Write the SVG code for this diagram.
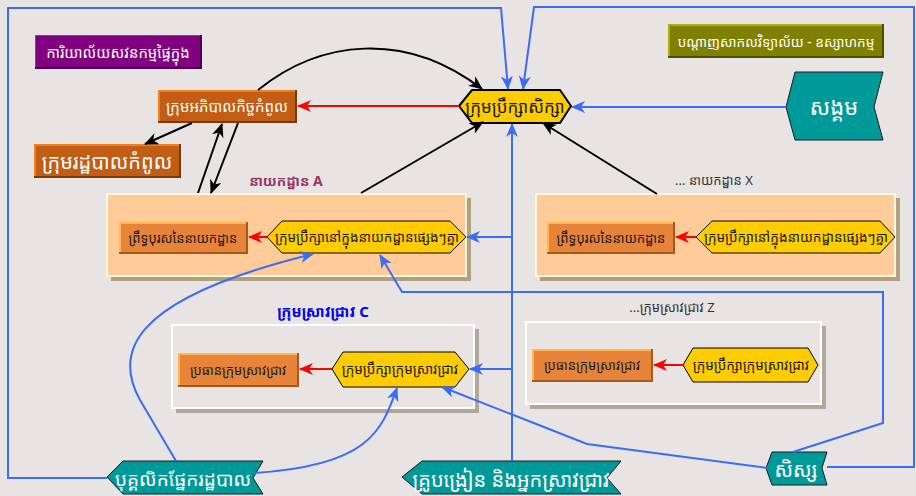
<svg xmlns="http://www.w3.org/2000/svg" width="916" height="496" viewBox="0 0 916 496">
<defs>
<style>
text{font-family:"Noto Sans Khmer","Khmer OS","Khmer OS System","Noto Sans","DejaVu Sans",sans-serif;text-anchor:middle;dominant-baseline:central}
.wt{fill:#fff}
.bk{fill:#1a1a1a}
.gr{fill:#333}
.cb{fill:none;stroke:#3a6cf4;stroke-width:2}
.ck{fill:none;stroke:#000;stroke-width:2}
.cr{fill:none;stroke:#f00;stroke-width:2}
.hex{fill:#ffcc00;stroke:#000;stroke-width:1}
.tag{fill:#009999;stroke:#1a1a1a;stroke-width:1}
.dept{fill:#ffcc99;stroke:#fff8dc;stroke-width:2}
.dsh{fill:#b0a080}
.grp{fill:#e8e4e3;stroke:#fff;stroke-width:2}
.gsh{fill:#b0a898}
</style>
<marker id="ab" viewBox="0 0 14 12" refX="13" refY="6" markerWidth="14" markerHeight="12" markerUnits="userSpaceOnUse" orient="auto"><path d="M0,0 L14,6 L0,12 L4,6 z" fill="#3a6cf4"/></marker>
<marker id="ak" viewBox="0 0 14 12" refX="13" refY="6" markerWidth="14" markerHeight="12" markerUnits="userSpaceOnUse" orient="auto"><path d="M0,0 L14,6 L0,12 L4,6 z" fill="#000"/></marker>
<marker id="ar" viewBox="0 0 14 12" refX="13" refY="6" markerWidth="14" markerHeight="12" markerUnits="userSpaceOnUse" orient="auto"><path d="M0,0 L14,6 L0,12 L4,6 z" fill="#f00"/></marker>
</defs>

<rect width="916" height="496" fill="#e8e4e3"/>

<!-- department and research group frames -->
<g id="deptA">
<rect class="dsh" x="111" y="198" width="360" height="83"/>
<rect class="dept" x="107" y="194" width="359" height="82"/>
<text x="286" y="180" style="font-weight:bold;font-size:14px;fill:#993366">នាយកដ្ឋាន A</text>
</g>
<g id="deptX">
<rect class="dsh" x="540" y="198" width="360" height="83"/>
<rect class="dept" x="536" y="194" width="359" height="82"/>
<text x="714" y="180" class="gr" style="font-size:13px">... នាយកដ្ឋាន X</text>
</g>
<g id="groupC">
<rect class="gsh" x="176" y="329" width="303" height="84"/>
<rect class="grp" x="172" y="325" width="302" height="83"/>
<text x="323" y="311" style="font-weight:bold;font-size:15px;fill:#0000ee">ក្រុមស្រាវជ្រាវ C</text>
</g>
<g id="groupZ">
<rect class="gsh" x="530" y="326" width="296" height="83"/>
<rect class="grp" x="526" y="322" width="295" height="82"/>
<text x="672" y="307" class="gr" style="font-size:13px">...ក្រុមស្រាវជ្រាវ Z</text>
</g>

<!-- header boxes -->
<g id="audit">
<rect x="35" y="35" width="167" height="34" fill="#4d004d"/>
<rect x="35" y="35" width="165" height="32" fill="#a030a0"/>
<rect x="36" y="36" width="164" height="31" fill="#800080"/>
<text x="118" y="52" class="wt" style="font-size:14.8px">ការិយាល័យសវនកម្មផ្ទៃក្នុង</text>
</g>
<g id="network">
<rect x="668" y="24" width="216" height="34" fill="#4d4d00"/>
<rect x="668" y="24" width="214" height="32" fill="#b0b000"/>
<rect x="670" y="26" width="212" height="30" fill="#808000"/>
<text x="776" y="41" class="wt" style="font-size:13.6px">បណ្ដាញសាកលវិទ្យាល័យ - ឧស្សាហកម្ម</text>
</g>

<g id="governance">
<rect x="158" y="90" width="139" height="33" fill="#7a3a0a"/>
<rect x="158" y="90" width="137" height="31" fill="#f07f1e"/>
<rect x="160" y="92" width="135" height="29" fill="#c15d14"/>
<text x="227" y="106" class="wt" style="font-size:15px">ក្រុមអភិបាលកិច្ចកំពូល</text>
</g>
<g id="admin">
<rect x="34" y="144" width="147" height="34" fill="#7a3a0a"/>
<rect x="34" y="144" width="145" height="32" fill="#f07f1e"/>
<rect x="36" y="146" width="143" height="30" fill="#c15d14"/>
<text x="107" y="161" class="wt" style="font-size:20px">ក្រុមរដ្ឋបាលកំពូល</text>
</g>

<g id="council">
<polygon class="hex" style="stroke-width:2" points="459,106 472,90 560,90 571,106 560,123 472,123"/>
<text x="515" y="106" class="bk" style="font-size:17px">ក្រុមប្រឹក្សាសិក្សា</text>
</g>

<g id="society">
<polygon class="tag" points="786,107 795,72 883,72 874,107 883,140 795,140"/>
<text x="834" y="106" class="wt" style="font-size:22px">សង្គម</text>
</g>

<!-- inner nodes -->
<g id="deanA">
<rect x="119" y="222" width="129" height="32" fill="#a35a20"/>
<rect x="119" y="222" width="127" height="30" fill="#ffb84d"/>
<rect x="121" y="224" width="125" height="28" fill="#e8843a"/>
<text x="183" y="238" class="bk" style="font-size:13px">ព្រឹទ្ធបុរសនៃនាយកដ្ឋាន</text>
</g>
<g id="councilA">
<polygon class="hex" points="267,237 282,221 450,221 466,237 450,253 282,253"/>
<text x="367" y="237" class="bk" style="font-size:13.5px">ក្រុមប្រឹក្សានៅក្នុងនាយកដ្ឋានផ្សេងៗគ្នា</text>
</g>
<g id="deanX">
<rect x="547" y="222" width="128" height="32" fill="#a35a20"/>
<rect x="547" y="222" width="126" height="30" fill="#ffb84d"/>
<rect x="549" y="224" width="124" height="28" fill="#e8843a"/>
<text x="611" y="238" class="bk" style="font-size:13px">ព្រឹទ្ធបុរសនៃនាយកដ្ឋាន</text>
</g>
<g id="councilX">
<polygon class="hex" points="696,237 712,221 880,221 895,237 880,253 712,253"/>
<text x="796" y="237" class="bk" style="font-size:13.5px">ក្រុមប្រឹក្សានៅក្នុងនាយកដ្ឋានផ្សេងៗគ្នា</text>
</g>
<g id="headC">
<rect x="178" y="353" width="121" height="34" fill="#a35a20"/>
<rect x="178" y="353" width="119" height="32" fill="#ffb84d"/>
<rect x="180" y="355" width="117" height="30" fill="#e8843a"/>
<text x="238" y="370" class="bk" style="font-size:13px">ប្រធានក្រុមស្រាវជ្រាវ</text>
</g>
<g id="councilC">
<polygon class="hex" points="332,369 343,352 455,352 469,369 455,387 343,387"/>
<text x="400" y="369" class="bk" style="font-size:13.5px">ក្រុមប្រឹក្សាក្រុមស្រាវជ្រាវ</text>
</g>
<g id="headZ">
<rect x="532" y="349" width="121" height="33" fill="#a35a20"/>
<rect x="532" y="349" width="119" height="31" fill="#ffb84d"/>
<rect x="534" y="351" width="117" height="29" fill="#e8843a"/>
<text x="592" y="365" class="bk" style="font-size:13px">ប្រធានក្រុមស្រាវជ្រាវ</text>
</g>
<g id="councilZ">
<polygon class="hex" points="683,365 693,348 808,348 818,365 808,382 693,382"/>
<text x="751" y="365" class="bk" style="font-size:13.5px">ក្រុមប្រឹក្សាក្រុមស្រាវជ្រាវ</text>
</g>

<!-- stakeholder tags -->
<g id="staff">
<polygon class="tag" points="107,477 123,461 263,461 253,478 263,494 123,494"/>
<text x="183" y="479" class="wt" style="font-size:19px">បុគ្គលិកផ្នែករដ្ឋបាល</text>
</g>
<g id="teachers">
<polygon class="tag" points="402,477 422,461 621,461 607,478 621,494 422,494"/>
<text x="511" y="479" class="wt" style="font-size:20px">គ្រូបង្រៀន និងអ្នកស្រាវជ្រាវ</text>
</g>
<g id="students">
<polygon class="tag" points="766,468 772,452 827,452 822,468 827,485 772,485"/>
<text x="796" y="469" class="wt" style="font-size:20px">សិស្ស</text>
</g>

<!-- connectors -->
<g id="connectors">
<path class="cb" d="M107,478 H8 V8 H501 L508,89" marker-end="url(#ab)"/>
<path class="cb" d="M827,467 H914 V7 H534 L523,89" marker-end="url(#ab)"/>
<path class="cb" d="M786,107 H572" marker-end="url(#ab)"/>
<path class="cb" d="M512,461 V124" marker-end="url(#ab)"/>
<path class="cb" d="M512,237 H467" marker-end="url(#ab)"/>
<path class="cb" d="M512,369 H470" marker-end="url(#ab)"/>
<path class="cb" d="M793,452 L883,423 V292 H402 L380,255" marker-end="url(#ab)"/>
<path class="cb" d="M767,468 L587,444 L442,387" marker-end="url(#ab)"/>
<path class="cb" d="M176,461 L140,400 C115,355 125,300 313,254" marker-end="url(#ab)"/>
<path class="cb" d="M253,473 C370,466 382,430 397,388" marker-end="url(#ab)"/>

<path class="cr" d="M459,106 H298" marker-end="url(#ar)"/>
<path class="cr" d="M267,237 H249" marker-end="url(#ar)"/>
<path class="cr" d="M696,237 H676" marker-end="url(#ar)"/>
<path class="cr" d="M332,369 H300" marker-end="url(#ar)"/>
<path class="cr" d="M683,365 H654" marker-end="url(#ar)"/>

<path class="ck" d="M258,90 C320,40 405,30 482,89" marker-end="url(#ak)"/>
<path class="ck" d="M192,123 L145,144" marker-end="url(#ak)"/>
<path class="ck" d="M198,193 L222,124" marker-end="url(#ak)"/>
<path class="ck" d="M238,123 L211,193" marker-end="url(#ak)"/>
<path class="ck" d="M361,193 L483,122" marker-end="url(#ak)"/>
<path class="ck" d="M657,194 L543,123" marker-end="url(#ak)"/>
</g>
</svg>
